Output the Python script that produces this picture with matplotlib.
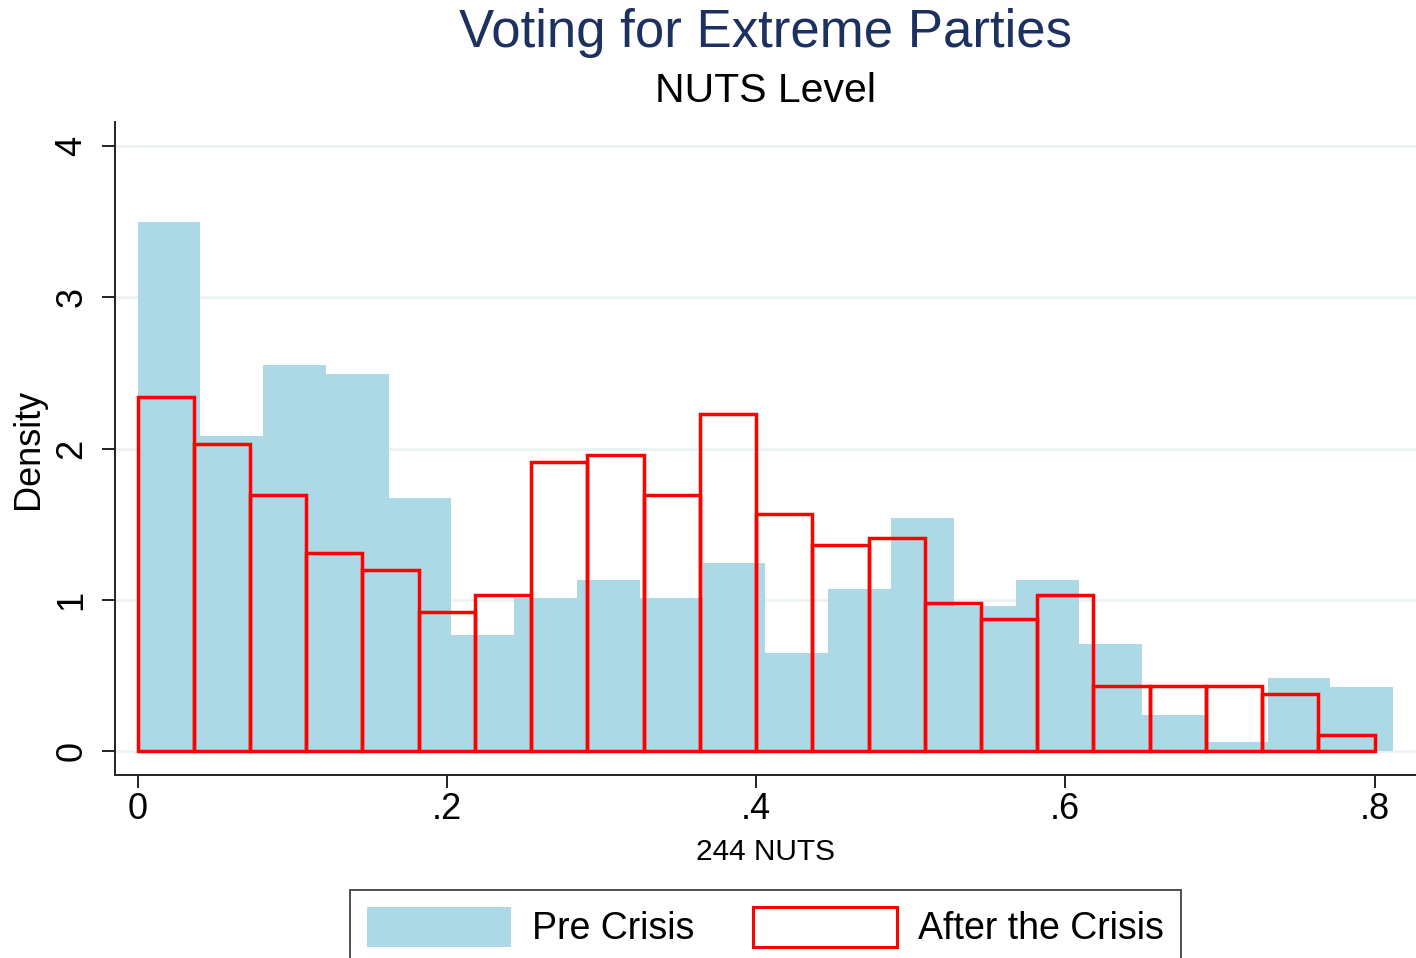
"""
Histogram of the vote share for extreme parties across NUTS regions,
before and after the crisis.
"""
from __future__ import annotations

import numpy as np
import matplotlib

matplotlib.use("Agg")
import matplotlib.pyplot as plt
from matplotlib.patches import Patch


# Density per bin (Stata-style histogram, density scale)
PRE_BIN_START = 0.0
PRE_BIN_WIDTH = 0.0406
PRE_DENSITY = [3.50, 2.08, 2.55, 2.49, 1.67, 0.77, 1.01, 1.13, 1.01, 1.24,
               0.65, 1.07, 1.54, 0.96, 1.13, 0.71, 0.24, 0.06, 0.48, 0.42]

AFTER_BIN_START = 0.0
AFTER_BIN_WIDTH = 0.8 / 22
AFTER_DENSITY = [2.34, 2.03, 1.69, 1.31, 1.20, 0.92, 1.03, 1.91, 1.96, 1.69, 2.23,
                 1.57, 1.36, 1.41, 0.98, 0.87, 1.03, 0.43, 0.43, 0.43, 0.38, 0.105]

X_TICKS = [0.0, 0.2, 0.4, 0.6, 0.8]
X_TICK_LABELS = ["0", ".2", ".4", ".6", ".8"]
Y_TICKS = [0, 1, 2, 3, 4]

TITLE = "Voting for Extreme Parties"
SUBTITLE = "NUTS Level"
X_LABEL = "244 NUTS"
Y_LABEL = "Density"
LEGEND_LABELS = ["Pre Crisis", "After the Crisis"]

FILL_BLUE = "#add8e6"
OUTLINE_RED = "#ff0000"
TITLE_NAVY = "#1c3160"
GRID_COLOR = "#e9f1f3"


def bin_lefts(start: float, width: float, n: int) -> np.ndarray:
    return start + width * np.arange(n)


def main() -> None:
    plt.rcParams["font.family"] = ["Liberation Sans", "DejaVu Sans"]

    fig = plt.figure(figsize=(14.16, 9.58), dpi=100)
    ax = fig.add_axes([0.0812, 0.1910, 0.9188, 0.6816])

    pre_left = bin_lefts(PRE_BIN_START, PRE_BIN_WIDTH, len(PRE_DENSITY))
    after_left = bin_lefts(AFTER_BIN_START, AFTER_BIN_WIDTH, len(AFTER_DENSITY))

    ax.bar(pre_left, PRE_DENSITY, width=PRE_BIN_WIDTH, align="edge",
           color=FILL_BLUE, linewidth=0, zorder=2)
    ax.bar(after_left, AFTER_DENSITY, width=AFTER_BIN_WIDTH, align="edge",
           facecolor="none", edgecolor=OUTLINE_RED, linewidth=2.5, zorder=3)

    ax.set_xlim(-0.0146, 0.8268)
    ax.set_ylim(-0.159, 4.159)

    ax.set_xticks(X_TICKS)
    ax.set_xticklabels(X_TICK_LABELS)
    ax.set_yticks(Y_TICKS)
    ax.tick_params(axis="both", direction="out", length=9.5, width=1.4,
                   color="#222222", labelsize=26)
    ax.tick_params(axis="x", pad=3)
    ax.tick_params(axis="y", pad=9, labelrotation=90)
    for label in ax.get_yticklabels():
        label.set_va("center")

    ax.yaxis.grid(True, color=GRID_COLOR, linewidth=1.8, zorder=0)
    ax.set_axisbelow(True)

    for side in ("top", "right"):
        ax.spines[side].set_visible(False)
    for side in ("left", "bottom"):
        ax.spines[side].set_linewidth(1.4)
        ax.spines[side].set_color("#222222")

    ax.set_ylabel(Y_LABEL, fontsize=26)
    ax.yaxis.set_label_coords(-0.053, 0.5)
    ax.set_xlabel(X_LABEL, fontsize=21.5)
    ax.xaxis.set_label_coords(0.5, -0.096)

    fig.text(765.5 / 1416, 0.951, TITLE, ha="center", va="baseline",
             fontsize=38, color=TITLE_NAVY)
    fig.text(765.5 / 1416, 0.8935, SUBTITLE, ha="center", va="baseline",
             fontsize=29.5, color="black")

    handles = [
        Patch(facecolor=FILL_BLUE, edgecolor="none"),
        Patch(facecolor="white", edgecolor=OUTLINE_RED, linewidth=2.2),
    ]
    legend = fig.legend(handles, LEGEND_LABELS, loc="upper center",
                        bbox_to_anchor=(765.5 / 1416, 1 - 890 / 958), ncol=2,
                        fontsize=27, frameon=True, fancybox=False,
                        handlelength=3.85, handleheight=1.25,
                        handletextpad=0.56, columnspacing=1.55,
                        borderpad=0.45, borderaxespad=0)
    legend.get_frame().set_edgecolor("#222222")
    legend.get_frame().set_linewidth(1.4)

    fig.savefig("out.png", dpi=100)
    plt.close(fig)


if __name__ == "__main__":
    main()
